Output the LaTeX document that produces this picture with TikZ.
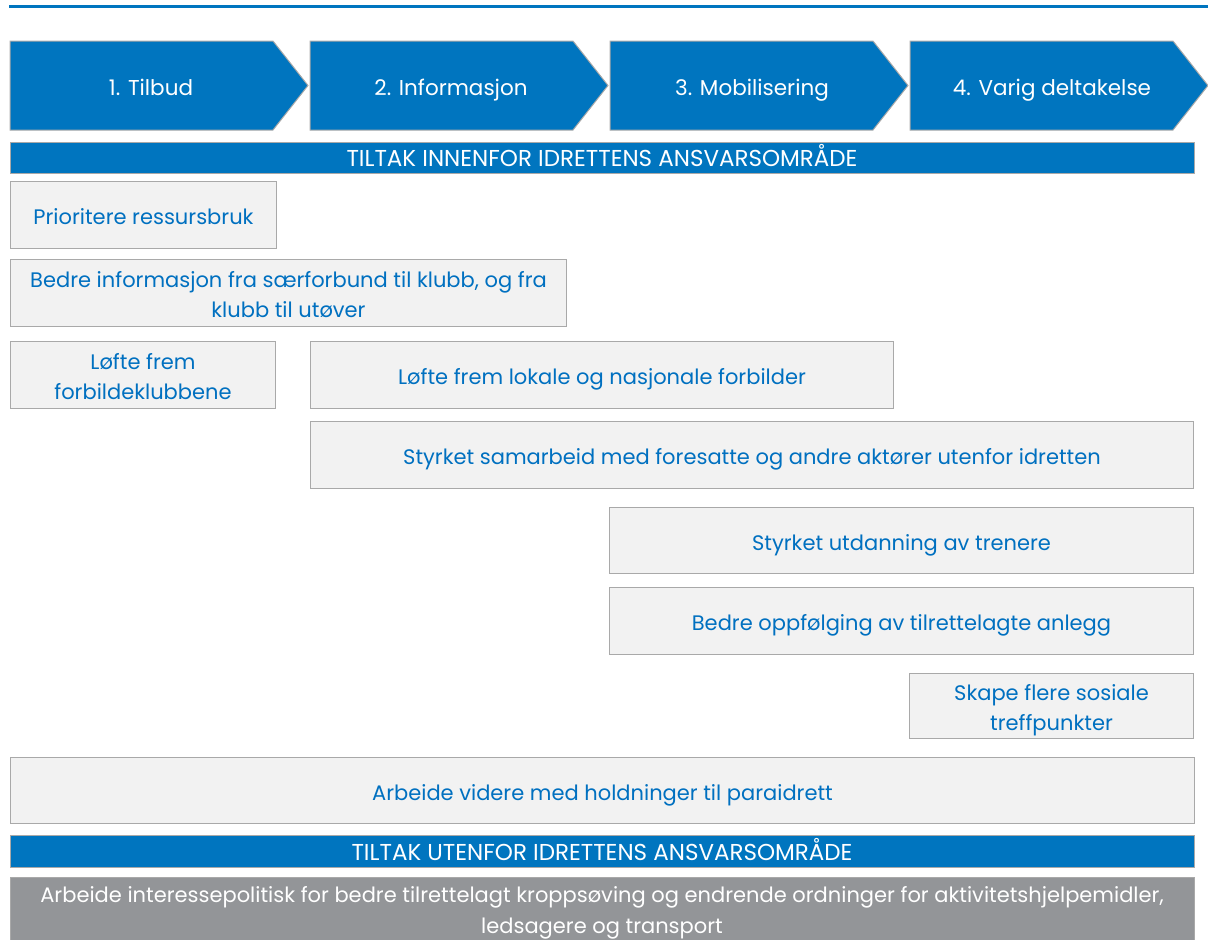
\documentclass[tikz,border=0pt]{standalone}
\usepackage{fontspec}
\setmainfont{Poppins}
\definecolor{nblue}{HTML}{0075BF}
\definecolor{tblue}{HTML}{0070C0}
\definecolor{boxfill}{HTML}{F2F2F2}
\definecolor{boxline}{HTML}{A9A9A9}
\definecolor{gbox}{HTML}{939598}
\newcommand{\onestrut}{\rule[-7pt]{0pt}{33pt}}
\newcommand{\topstrut}{\rule{0pt}{26pt}}
\newcommand{\botstrut}{\rule[-7pt]{0pt}{7pt}}
\tikzset{
  basebox/.style={draw=boxline, line width=1pt, fill=boxfill, text=tblue, anchor=north west, align=center, inner sep=0pt, font=\fontsize{21}{30}\selectfont},
  box/.style={basebox, execute at begin node={\onestrut}},
  twobox/.style={basebox},
  banner/.style={draw=boxline, line width=1pt, fill=nblue, anchor=north west, inner sep=0pt},
  bannertext/.style={text=white, anchor=base, font=\fontsize{23}{24}\selectfont},
  chev/.style={draw=boxline, line width=1pt, fill=nblue},
  chevtext/.style={text=white, anchor=base, font=\fontsize{21.5}{24}\selectfont},
}
\begin{document}
\begin{tikzpicture}[x=1pt,y=-1pt]
\useasboundingbox (0,0) rectangle (1208,940);
\clip (0,0) rectangle (1208,940);
\draw[nblue, line width=3pt] (9,6.5) -- (1208,6.5);
% chevrons
\foreach \i in {0,1,2,3}{
  \pgfmathsetmacro{\xs}{10+300*\i}
  \draw[chev] (\xs,41) -- ({\xs+263},41) -- ({\xs+298},85.5) -- ({\xs+263},130) -- (\xs,130) -- cycle;
}
\node[chevtext] (c1) at (151,95) {1. Tilbud};
\node[chevtext] (c2) at (451,95) {2. Informasjon};
\node[chevtext] (c3) at (752,95) {3. Mobilisering};
\node[chevtext] (c4) at (1052,95) {4. Varig deltakelse};
% banner 1
\node[banner, minimum width=1184pt, minimum height=31pt] (b1) at (10,142) {};
\node[bannertext] (b1t) at (602,166) {TILTAK INNENFOR IDRETTENS ANSVARSOMRÅDE};
% boxes
\node[box, minimum width=266pt, minimum height=67pt] (n1) at (10,181) {Prioritere ressursbruk};
\node[twobox, minimum width=556pt, minimum height=67pt] (n2) at (10,259) {\topstrut Bedre informasjon fra særforbund til klubb, og fra\\klubb til utøver\botstrut};
\node[twobox, minimum width=265pt, minimum height=67pt] (n3) at (10,341) {\topstrut Løfte frem\\forbildeklubbene\botstrut};
\node[box, minimum width=583pt, minimum height=67pt] (n4) at (310,341) {Løfte frem lokale og nasjonale forbilder};
\node[box, minimum width=883pt, minimum height=67pt] (n5) at (310,421) {Styrket samarbeid med foresatte og andre aktører utenfor idretten};
\node[box, minimum width=584pt, minimum height=66pt] (n6) at (609,507) {Styrket utdanning av trenere};
\node[box, minimum width=584pt, minimum height=67pt] (n7) at (609,587) {Bedre oppfølging av tilrettelagte anlegg};
\node[twobox, minimum width=284pt, minimum height=65pt] (n8) at (909,673) {\topstrut Skape flere sosiale\\treffpunkter\botstrut};
\node[box, minimum width=1184pt, minimum height=66pt] (n9) at (10,757) {Arbeide videre med holdninger til paraidrett};
% banner 2
\node[banner, minimum width=1184pt, minimum height=32pt] (b2) at (10,835) {};
\node[bannertext] (b2t) at (602,860) {TILTAK UTENFOR IDRETTENS ANSVARSOMRÅDE};
% gray box
\fill[gbox] (10,877) rectangle (1194,945);
\draw[boxline, line width=1pt] (10,945) -- (10,877) -- (1194,877) -- (1194,945);
\node[text=white, align=center, font=\fontsize{21}{31}\selectfont] (g) at (602,913) {Arbeide interessepolitisk for bedre tilrettelagt kroppsøving og endrende ordninger for aktivitetshjelpemidler,\\ledsagere og transport};
\end{tikzpicture}
\end{document}
